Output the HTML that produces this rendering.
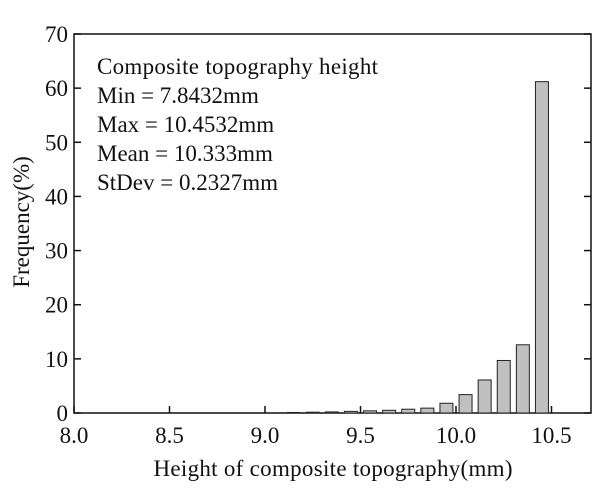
<!DOCTYPE html>
<html><head><meta charset="utf-8"><style>
body{margin:0;background:#fff;}
svg text{font-family:"Liberation Serif",serif;fill:#111;}
</style></head><body>
<svg width="600" height="488" id="c">
<rect x="74" y="34" width="517" height="379" fill="none" stroke="#111" stroke-width="1.5"/>
<g font-size="23">
<text x="97" y="74" textLength="281">Composite topography height</text>
<text x="97" y="103">Min = 7.8432mm</text>
<text x="97" y="132">Max = 10.4532mm</text>
<text x="97" y="161">Mean  = 10.333mm</text>
<text x="97" y="190">StDev = 0.2327mm</text>
</g>
<text x="333" y="476" font-size="23" text-anchor="middle" textLength="359">Height of composite topography(mm)</text>
<text transform="translate(29,222) rotate(-90)" font-size="23" text-anchor="middle">Frequency(%)</text>
<g id="bars"></g><g id="ticks"></g>
</svg>
<script>
const binCenters=[9.15,9.25,9.35,9.45,9.55,9.65,9.75,9.85,9.95,10.05,10.15,10.25,10.35,10.45];
const frequencies=[0.1,0.15,0.2,0.3,0.4,0.5,0.7,0.9,1.8,3.4,6.1,9.7,12.6,61.2];
const xTicks=["8.0","8.5","9.0","9.5","10.0","10.5"];
const yTicks=[0,10,20,30,40,50,60,70];
const NS="http://www.w3.org/2000/svg";
const X=v=>74+(v-8)*191, Y=v=>413-v*(379/70);
const bars=document.getElementById('bars'),ticks=document.getElementById('ticks');
binCenters.forEach((c,i)=>{
 const r=document.createElementNS(NS,'rect');
 
 
 r.setAttribute('x',X(c)-6.5);r.setAttribute('width',13);
 r.setAttribute('y',Y(frequencies[i]));r.setAttribute('height',413-Y(frequencies[i]));
 r.setAttribute('fill','#c0c0c0');r.setAttribute('stroke','#222');r.setAttribute('stroke-width','1');
 bars.appendChild(r);
});
xTicks.forEach(t=>{
 const x=X(parseFloat(t));
 const l=document.createElementNS(NS,'line');
 
 
 l.setAttribute('x1',x);l.setAttribute('x2',x);l.setAttribute('y1',413);l.setAttribute('y2',406);l.setAttribute('stroke','#111');l.setAttribute('stroke-width','1.5');
 ticks.appendChild(l);
 const tx=document.createElementNS(NS,'text');
 
 
 tx.setAttribute('x',x);tx.setAttribute('y',443);tx.setAttribute('font-size','23');tx.setAttribute('text-anchor','middle');tx.textContent=t;
 ticks.appendChild(tx);
});
yTicks.forEach(t=>{
 const y=Y(t);
 const l=document.createElementNS(NS,'line');
 
 
 l.setAttribute('x1',74);l.setAttribute('x2',81);l.setAttribute('y1',y);l.setAttribute('y2',y);l.setAttribute('stroke','#111');l.setAttribute('stroke-width','1.5');
 ticks.appendChild(l);
 const r=document.createElementNS(NS,'line');
 
 
 r.setAttribute('x1',591);r.setAttribute('x2',584);r.setAttribute('y1',y);r.setAttribute('y2',y);r.setAttribute('stroke','#111');r.setAttribute('stroke-width','1.5');
 ticks.appendChild(r);
 const tx=document.createElementNS(NS,'text');
 
 
 tx.setAttribute('x',68);tx.setAttribute('y',y+8);tx.setAttribute('font-size','23');tx.setAttribute('text-anchor','end');tx.textContent=t;
 ticks.appendChild(tx);
});
</script>
</body></html>
